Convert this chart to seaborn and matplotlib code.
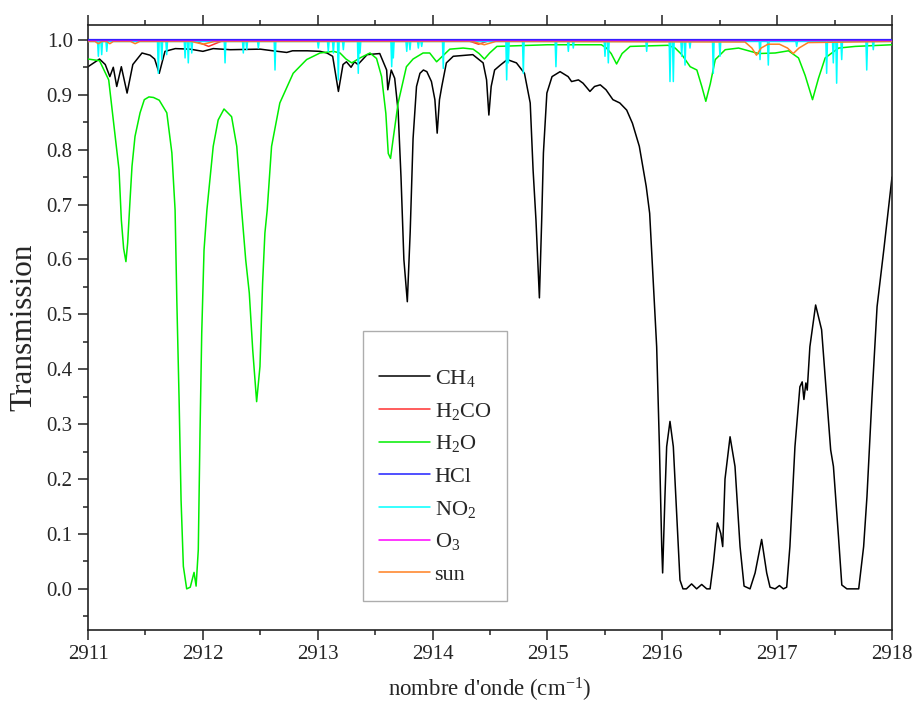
import numpy as np
import seaborn as sns
import matplotlib
matplotlib.use("Agg")
import matplotlib.pyplot as plt
from matplotlib.ticker import MultipleLocator, FormatStrFormatter

# values (wavenumber in cm-1, transmission)
ch4_wn = [2911.00, 2911.10, 2911.15, 2911.19, 2911.22, 2911.25, 2911.29, 2911.34, 2911.39,
          2911.47, 2911.54, 2911.58, 2911.62, 2911.67, 2911.76, 2911.89, 2912.00, 2912.09,
          2912.24, 2912.50, 2912.61, 2912.73, 2912.78, 2912.91, 2913.02, 2913.08, 2913.13,
          2913.18, 2913.22, 2913.25, 2913.29, 2913.32, 2913.35, 2913.43, 2913.54, 2913.60,
          2913.61, 2913.64, 2913.67, 2913.70, 2913.725, 2913.75, 2913.78, 2913.805, 2913.83,
          2913.86, 2913.89, 2913.92, 2913.95, 2913.99, 2914.02, 2914.04, 2914.06, 2914.08,
          2914.12, 2914.18, 2914.35, 2914.44, 2914.47, 2914.49, 2914.51, 2914.54, 2914.59,
          2914.65, 2914.73, 2914.80, 2914.85, 2914.875, 2914.90, 2914.93, 2914.95, 2914.965,
          2914.995, 2915.04, 2915.11, 2915.18, 2915.21, 2915.27, 2915.31, 2915.37, 2915.41,
          2915.46, 2915.51, 2915.57, 2915.63, 2915.69, 2915.74, 2915.80, 2915.86, 2915.89,
          2915.92, 2915.951, 2915.975, 2915.995, 2916.003, 2916.023, 2916.038, 2916.067,
          2916.096, 2916.125, 2916.154, 2916.18, 2916.21, 2916.255, 2916.299, 2916.343,
          2916.387, 2916.416, 2916.445, 2916.48, 2916.509, 2916.526, 2916.546, 2916.59,
          2916.633, 2916.677, 2916.712, 2916.764, 2916.808, 2916.865, 2916.909, 2916.938,
          2916.982, 2917.02, 2917.054, 2917.083, 2917.111, 2917.155, 2917.198, 2917.218,
          2917.233, 2917.25, 2917.262, 2917.285, 2917.335, 2917.387, 2917.431, 2917.466,
          2917.49, 2917.534, 2917.563, 2917.607, 2917.71, 2917.753, 2917.782, 2917.826,
          2917.87, 2917.93, 2918.00]
ch4_t = [0.951, 0.965, 0.955, 0.933, 0.950, 0.915, 0.951, 0.903, 0.955,
         0.976, 0.972, 0.965, 0.939, 0.979, 0.984, 0.983, 0.979, 0.984,
         0.982, 0.983, 0.980, 0.977, 0.980, 0.980, 0.979, 0.976, 0.970,
         0.906, 0.955, 0.960, 0.950, 0.960, 0.955, 0.973, 0.975, 0.945,
         0.909, 0.945, 0.930, 0.870, 0.750, 0.600, 0.523, 0.650, 0.820,
         0.915, 0.939, 0.945, 0.942, 0.924, 0.891, 0.830, 0.891, 0.915,
         0.958, 0.970, 0.973, 0.958, 0.927, 0.863, 0.915, 0.945, 0.954,
         0.964, 0.958, 0.939, 0.885, 0.763, 0.672, 0.530, 0.672, 0.794,
         0.903, 0.933, 0.942, 0.933, 0.924, 0.927, 0.921, 0.906, 0.915,
         0.918, 0.909, 0.891, 0.885, 0.872, 0.848, 0.806, 0.733, 0.684,
         0.563, 0.441, 0.259, 0.077, 0.029, 0.168, 0.259, 0.305,
         0.259, 0.138, 0.016, 0.000, 0.000, 0.009, 0.000, 0.008,
         0.000, 0.000, 0.047, 0.120, 0.101, 0.077, 0.200, 0.277,
         0.223, 0.077, 0.005, 0.000, 0.029, 0.090, 0.029, 0.003,
         0.000, 0.006, 0.000, 0.003, 0.077, 0.259, 0.368, 0.377,
         0.345, 0.375, 0.362, 0.441, 0.517, 0.472, 0.350, 0.253,
         0.223, 0.095, 0.007, 0.000, 0.000, 0.077, 0.168, 0.350,
         0.514, 0.620, 0.750]

h2o_wn = [2911.00, 2911.10, 2911.18, 2911.22, 2911.27, 2911.29, 2911.31, 2911.33, 2911.345,
          2911.366, 2911.383, 2911.409, 2911.453, 2911.49, 2911.53, 2911.57, 2911.62, 2911.686,
          2911.73, 2911.758, 2911.773, 2911.793, 2911.81, 2911.83, 2911.859, 2911.89, 2911.923,
          2911.941, 2911.96, 2911.975, 2911.99, 2912.01, 2912.035, 2912.09, 2912.133, 2912.184,
          2912.25, 2912.295, 2912.33, 2912.373, 2912.404, 2912.434, 2912.468, 2912.497, 2912.52,
          2912.54, 2912.56, 2912.598, 2912.67, 2912.786, 2912.903, 2913.02, 2913.136, 2913.194,
          2913.246, 2913.296, 2913.368, 2913.455, 2913.512, 2913.556, 2913.593, 2913.614,
          2913.634, 2913.657, 2913.7, 2913.772, 2913.83, 2913.917, 2913.975, 2914.035, 2914.15,
          2914.266, 2914.353, 2914.405, 2914.451, 2914.497, 2914.56, 2915.0, 2915.47, 2915.514,
          2915.555, 2915.602, 2915.65, 2915.72, 2916.05, 2916.112, 2916.17, 2916.243, 2916.301,
          2916.344, 2916.379, 2916.418, 2916.461, 2916.548, 2916.664, 2916.751, 2916.838,
          2916.983, 2917.099, 2917.186, 2917.244, 2917.308, 2917.36, 2917.418, 2917.535,
          2917.68, 2918.00]
h2o_t = [0.965, 0.962, 0.927, 0.854, 0.763, 0.672, 0.620, 0.596, 0.630,
         0.709, 0.770, 0.824, 0.867, 0.891, 0.896, 0.895, 0.890, 0.867,
         0.794, 0.690, 0.526, 0.344, 0.162, 0.041, 0.000, 0.003, 0.030,
         0.005, 0.071, 0.284, 0.466, 0.617, 0.690, 0.806, 0.854, 0.874,
         0.860, 0.806, 0.709, 0.599, 0.539, 0.435, 0.341, 0.405, 0.557,
         0.648, 0.690, 0.806, 0.885, 0.939, 0.964, 0.976, 0.979, 0.976,
         0.965, 0.958, 0.967, 0.976, 0.966, 0.933, 0.866, 0.793,
         0.784, 0.820, 0.885, 0.951, 0.965, 0.976, 0.976, 0.960, 0.983,
         0.985, 0.983, 0.975, 0.965, 0.976, 0.988, 0.991, 0.991, 0.985,
         0.975, 0.956, 0.975, 0.988, 0.990, 0.985, 0.973, 0.951, 0.945,
         0.915, 0.888, 0.920, 0.964, 0.982, 0.985, 0.980, 0.975,
         0.976, 0.980, 0.967, 0.935, 0.891, 0.930, 0.967, 0.985,
         0.988, 0.991]

h2co_wn = [2911.00, 2911.92, 2911.98, 2912.05, 2912.12, 2912.18, 2914.30, 2914.40, 2914.50, 2918.00]
h2co_t = [0.999, 0.999, 0.994, 0.988, 0.994, 0.999, 0.999, 0.992, 0.999, 0.999]

hcl_wn = [2911.00, 2918.00]
hcl_t = [1.000, 1.000]

o3_wn = [2911.00, 2918.00]
o3_t = [1.000, 1.000]

sun_wn = [2911.00, 2911.06, 2911.09, 2911.12, 2911.16, 2911.19, 2911.22, 2911.37, 2911.41,
          2911.45, 2911.90, 2912.00, 2912.10, 2914.35, 2914.45, 2914.55, 2916.72, 2916.78,
          2916.82, 2916.86, 2916.92, 2917.02, 2917.09, 2917.14, 2917.19, 2917.27, 2918.00]
sun_t = [0.997, 0.997, 0.993, 0.997, 0.997, 0.993, 0.997, 0.997, 0.993,
         0.997, 0.997, 0.992, 0.997, 0.997, 0.991, 0.997, 0.996, 0.985,
         0.972, 0.985, 0.992, 0.992, 0.985, 0.975, 0.985, 0.995, 0.997]

# NO2 is a stick-like spectrum: line centres and line-bottom transmission
no2_centres = [2911.090, 2911.119, 2911.163, 2911.612, 2911.642, 2911.685, 2911.845, 2911.873,
               2911.903, 2912.193, 2912.352, 2912.382, 2912.483, 2912.628, 2913.005, 2913.092,
               2913.136, 2913.179, 2913.223, 2913.353, 2913.368, 2913.644, 2913.658, 2913.775,
               2913.803, 2913.876, 2913.905, 2914.093, 2914.645, 2914.660, 2914.790, 2915.074,
               2915.182, 2915.225, 2915.501, 2915.530, 2915.864, 2916.067, 2916.096, 2916.169,
               2916.198, 2916.241, 2916.444, 2916.502, 2916.851, 2916.923, 2917.170, 2917.431,
               2917.489, 2917.518, 2917.562, 2917.780, 2917.837]
no2_depth = [0.970, 0.973, 0.979, 0.939, 0.964, 0.973, 0.967, 0.958,
             0.976, 0.958, 0.976, 0.982, 0.985, 0.945, 0.985, 0.979,
             0.976, 0.927, 0.982, 0.939, 0.976, 0.951, 0.967, 0.979,
             0.982, 0.985, 0.988, 0.948, 0.927, 0.958, 0.939, 0.951,
             0.979, 0.985, 0.970, 0.958, 0.979, 0.924, 0.924, 0.970,
             0.954, 0.985, 0.939, 0.970, 0.964, 0.954, 0.988, 0.939,
             0.958, 0.921, 0.964, 0.945, 0.982]
no2_base = 0.997

labels = ["CH$_4$", "H$_2$CO", "H$_2$O", "HCl", "NO$_2$", "O$_3$", "sun"]
colors = ["#000000", "#ff3030", "#00ee00", "#2020ff", "#00ffff", "#ff00ff", "#ff8020"]

# build the NO2 trace from the line list
no2_wn = [2911.0]
no2_t = [no2_base]
for c, d in zip(no2_centres, no2_depth):
    no2_wn += [c - 0.007, c, c + 0.007]
    no2_t += [no2_base, d, no2_base]
no2_wn.append(2918.0)
no2_t.append(no2_base)

sns.set_theme(style="ticks")
plt.rcParams['font.family'] = 'serif'
plt.rcParams['font.serif'] = ['Liberation Serif', 'DejaVu Serif']
plt.rcParams['mathtext.fontset'] = 'custom'
plt.rcParams['mathtext.rm'] = 'Liberation Serif'
plt.rcParams['mathtext.it'] = 'Liberation Serif:italic'

fig = plt.figure(figsize=(9.16, 7.06), dpi=100)
ax = fig.add_axes([0.0961, 0.1076, 0.8777, 0.857])

series = [(ch4_wn, ch4_t), (h2co_wn, h2co_t), (h2o_wn, h2o_t), (hcl_wn, hcl_t),
          (no2_wn, no2_t), (o3_wn, o3_t), (sun_wn, sun_t)]
widths = [1.1, 1.1, 1.1, 1.6, 1.1, 1.0, 1.1]
alphas = [1, 1, 1, 1, 1, 0.55, 1]
zorders = [2, 3, 4, 7, 5, 8, 6]
for (x, y), lab, col, lw, a, z in zip(series, labels, colors, widths, alphas, zorders):
    sns.lineplot(x=x, y=y, ax=ax, color=col, linewidth=lw, alpha=a, label=lab,
                 estimator=None, sort=False, zorder=z)

ax.set_xlim(2911, 2918)
ax.set_ylim(-0.075, 1.027)
ax.xaxis.set_major_locator(MultipleLocator(1))
ax.xaxis.set_minor_locator(MultipleLocator(0.5))
ax.yaxis.set_major_locator(MultipleLocator(0.1))
ax.yaxis.set_minor_locator(MultipleLocator(0.05))
ax.yaxis.set_major_formatter(FormatStrFormatter('%.1f'))
ax.tick_params(which='both', direction='out', top=True, right=False, width=1.1, color='#222222')
ax.tick_params(which='major', length=7, labelsize=15, pad=4)
ax.tick_params(which='minor', length=3.5)
for s in ax.spines.values():
    s.set_linewidth(1.2)
    s.set_color('#222222')

ax.set_xlabel("nombre d'onde (cm$^{-1}$)", fontsize=16.5, labelpad=8)
ax.set_ylabel("Transmission", fontsize=22.5, labelpad=6)

# legend, same order as the picture
handles, labs = ax.get_legend_handles_labels()
leg = ax.legend(handles, labs, loc='upper left', bbox_to_anchor=(0.342, 0.494),
                borderaxespad=0, fontsize=16, handlelength=2.3, handletextpad=0.2,
                labelspacing=0.53, borderpad=0.72, frameon=True, fancybox=False,
                title=" ", title_fontsize=7)
leg.get_frame().set_edgecolor('#999999')
leg.get_frame().set_linewidth(1.0)
for h in leg.legend_handles:
    h.set_alpha(1)
    h.set_linewidth(1.1)

fig.savefig("out.png", dpi=100)
